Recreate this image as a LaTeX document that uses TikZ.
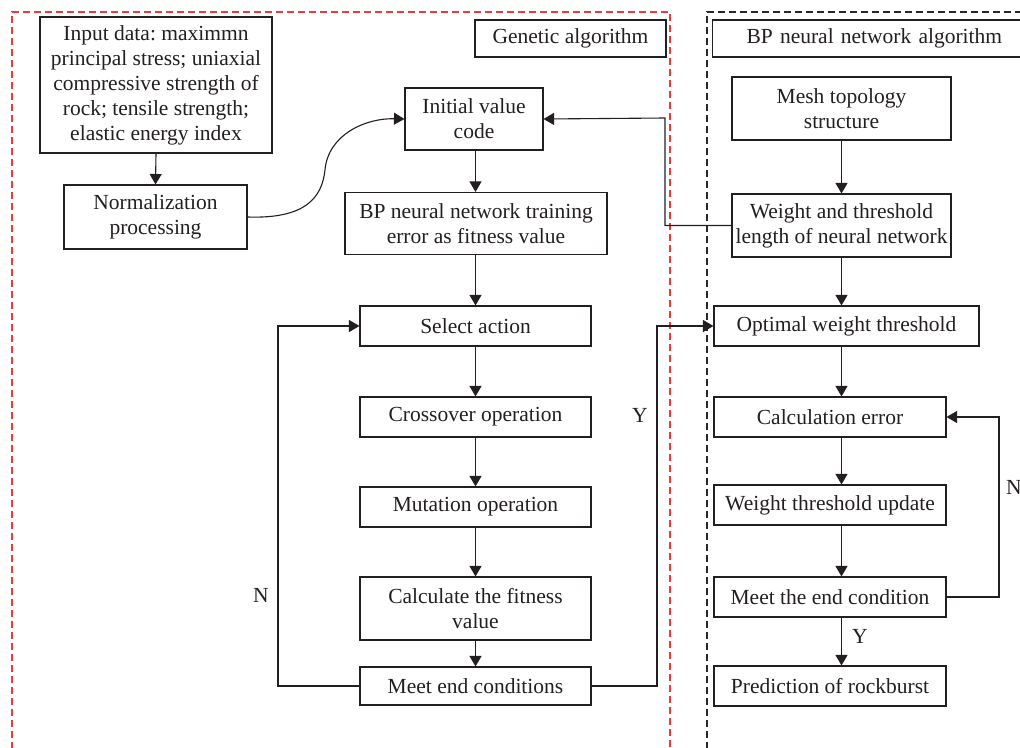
\documentclass[tikz,border=0pt]{standalone}
\usepackage{fontspec}
\setmainfont{Liberation Serif}
\usetikzlibrary{arrows.meta}
\definecolor{inkline}{RGB}{35,31,32}
\definecolor{gaframe}{RGB}{232,60,60}
\definecolor{bpframe}{RGB}{40,40,40}
\frenchspacing
\begin{document}
\begin{tikzpicture}[x=1pt,y=-1pt,
  box/.style={draw=inkline,line width=1.1pt,inner sep=2pt,align=center,
    font=\fontsize{21.5}{25}\selectfont,text=inkline},
  flow/.style={draw=inkline,line width=1.1pt,-{Triangle[length=10.5pt,width=12pt]}},
  lbl/.style={font=\fontsize{21.5}{25}\selectfont,text=inkline,inner sep=0pt},
  frame/.style={line width=1.2pt,dash pattern=on 7pt off 4pt}]
\useasboundingbox (0,0) rectangle (1020,747);
\clip (0,0) rectangle (1020,747);

% section frames
\draw[frame,draw=gaframe] (12,760) -- (12,12) -- (670,12) -- (670,760);
\draw[frame,draw=bpframe] (707,760) -- (707,12) -- (1030,12);

% section titles
\node[box,minimum width=191pt,minimum height=37pt] (gatitle) at (570.5,38.5) {Genetic algorithm};
\node[box,minimum width=330pt,minimum height=37pt,text width=320pt,align=left,anchor=west]
  (bptitle) at (712,38.5) {\hspace*{29pt}BP neural network algorithm};

% genetic algorithm column
\node[box,minimum width=232pt,minimum height=136pt] (input) at (156,85)
  {Input data: maximmn\\principal stress; uniaxial\\compressive strength of\\rock; tensile strength;\\elastic energy index};
\node[box,minimum width=183pt,minimum height=64pt] (norm) at (155.5,217)
  {Normalization\\processing};
\node[box,minimum width=138pt,minimum height=62pt] (init) at (474,119)
  {Initial value\\code};
\node[box,minimum width=262pt,minimum height=62pt] (train) at (476,223.5)
  {BP neural network training\\error as fitness value};
\node[box,minimum width=231pt,minimum height=40pt] (select) at (475.5,326) {Select action};
\node[box,minimum width=231pt,minimum height=40pt] (cross) at (475.5,417) {Crossover operation};
\node[box,minimum width=231pt,minimum height=40pt] (mutate) at (475.5,507) {Mutation operation};
\node[box,minimum width=231pt,minimum height=63pt] (fit) at (475.5,608.5)
  {Calculate the fitness\\value};
\node[box,minimum width=231pt,minimum height=38pt] (gaend) at (475.5,686) {Meet end conditions};

% BP network column
\node[box,minimum width=219pt,minimum height=63pt] (mesh) at (841.5,108.5)
  {Mesh topology\\structure};
\node[box,minimum width=219pt,minimum height=63pt,inner sep=0pt] (wlen) at (841.5,225.5)
  {Weight and threshold\\length of neural network};
\node[box,minimum width=265pt,minimum height=40pt] (optw) at (846.5,326) {Optimal weight threshold};
\node[box,minimum width=232pt,minimum height=40pt] (calc) at (830,417) {Calculation error};
\node[box,minimum width=232pt,minimum height=40pt] (upd) at (830,505) {Weight threshold update};
\node[box,minimum width=232pt,minimum height=40pt] (bpend) at (830,597) {Meet the end condition};
\node[box,minimum width=232pt,minimum height=40pt] (pred) at (830,686) {Prediction of rockburst};

% connectors of the genetic algorithm
\draw[flow] (input.south) -- (norm.north);
\draw[flow] (norm.east) .. controls (305,219) and (322,198) .. (325,170)
  .. controls (328,135) and (365,118) .. (init.west);
\draw[flow] (init.south -| select) -- (train.north -| select);
\draw[flow] (train.south -| select) -- (select.north);
\draw[flow] (select.south) -- (cross.north);
\draw[flow] (cross.south) -- (mutate.north);
\draw[flow] (mutate.south) -- (fit.north);
\draw[flow] (fit.south) -- (gaend.north);
\draw[flow] (gaend.west) -- (278,686) -- (278,326) -- (select.west);
\draw[flow] (gaend.east) -- (657,686) -- (657,326) -- (optw.west);
\node[lbl] (nga) at (261,595) {N};
\node[lbl] (yga) at (640,415) {Y};

% connectors of the BP network
\draw[flow] (wlen.west) -- (665,225.5) -- (665,118) -- (init.east);
\draw[flow] (mesh.south) -- (wlen.north);
\draw[flow] (wlen.south) -- (optw.north -| wlen);
\draw[flow] (optw.south -| wlen) -- (calc.north -| wlen);
\draw[flow] (calc.south -| wlen) -- (upd.north -| wlen);
\draw[flow] (upd.south -| wlen) -- (bpend.north -| wlen);
\draw[flow] (bpend.south -| wlen) -- (pred.north -| wlen);
\draw[flow] (bpend.east) -- (999,597) -- (999,417) -- (calc.east);
\node[lbl,anchor=west] (nbp) at (1006,487) {N};
\node[lbl] (ybp) at (860,636) {Y};
\end{tikzpicture}
\end{document}
